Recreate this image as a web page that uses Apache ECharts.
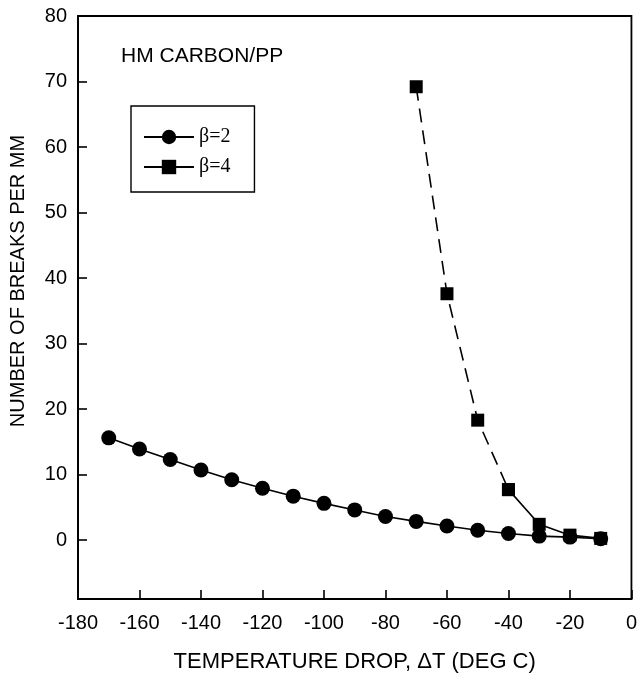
<!DOCTYPE html>
<html>
<head>
<meta charset="utf-8">
<script src="https://cdn.jsdelivr.net/npm/echarts@6/dist/echarts.min.js"></script>
<style>html,body{margin:0;padding:0;background:#fff}#c{width:640px;height:680px}</style>
</head>
<body>
<div id="c"></div>
<script>
const temps2 = [-170,-160,-150,-140,-130,-120,-110,-100,-90,-80,-70,-60,-50,-40,-30,-20,-10];
const beta2 = [15.6,13.9,12.3,10.7,9.2,7.9,6.7,5.6,4.6,3.6,2.85,2.15,1.5,1.0,0.6,0.45,0.2];
const temps4Dashed = [-70,-60,-50,-40];
const beta4Dashed = [69.2,37.6,18.3,7.7];
const temps4Solid = [-40,-30,-20,-10];
const beta4Solid = [7.7,2.4,0.75,0.25];
const yTicks = [0,10,20,30,40,50,60,70,80];
const xTicks = [-180,-160,-140,-120,-100,-80,-60,-40,-20,0];

const font = 'Liberation Sans, Arial, sans-serif';
const zip = (a,b)=>a.map((v,i)=>[v,b[i]]);
const chart = echarts.init(document.getElementById('c'));
chart.setOption({
  animation:false,
  grid:{left:78,right:7,top:16,bottom:81,show:true,borderColor:'#000',borderWidth:1.8},
  title:{text:'HM CARBON/PP',left:116,top:41,textStyle:{fontFamily:font,fontWeight:'normal',fontSize:21,color:'#000'}},
  graphic:[{type:'text',x:18,y:281,rotation:Math.PI/2,
    style:{text:'NUMBER OF BREAKS PER MM',fontFamily:font,fontSize:20,fill:'#000',align:'center',verticalAlign:'middle'}}],
  legend:{
    data:['β=2','β=4'],orient:'vertical',left:131,top:106,
    padding:[21,24,15,12],itemGap:10,itemWidth:50,itemHeight:18,
    borderColor:'#000',borderWidth:1.4,
    textStyle:{fontFamily:'Liberation Serif, Times New Roman, serif',fontSize:20,color:'#000'}
  },
  xAxis:{type:'value',min:-180,max:0,interval:20,
    name:'TEMPERATURE DROP, ΔT (DEG C)',nameLocation:'middle',nameGap:52,
    nameTextStyle:{fontFamily:font,fontSize:22,color:'#000'},
    axisLine:{onZero:false,lineStyle:{color:'#000',width:1.8}},
    axisTick:{inside:true,length:9,lineStyle:{color:'#000',width:1.6}},
    axisLabel:{margin:14,fontFamily:font,fontSize:20,color:'#000',customValues:xTicks},
    splitLine:{show:false}},
  yAxis:{type:'value',min:-9,max:80,
    axisLine:{show:true,onZero:false,lineStyle:{color:'#000',width:1.8}},
    axisTick:{show:true,inside:true,length:9,lineStyle:{color:'#000',width:1.6},customValues:yTicks},
    axisLabel:{margin:11,fontFamily:font,fontSize:20,color:'#000',customValues:yTicks},
    splitLine:{show:false}},
  series:[
    {name:'β=2',type:'line',data:zip(temps2,beta2),symbol:'circle',symbolSize:15,
      itemStyle:{color:'#000'},lineStyle:{color:'#000',width:1.6}},
    {name:'β=4',type:'line',data:zip(temps4Solid,beta4Solid),symbol:'rect',symbolSize:13,
      itemStyle:{color:'#000'},lineStyle:{color:'#000',width:1.6}},
    {name:'β=4 dashed',type:'line',data:zip(temps4Dashed,beta4Dashed),symbol:'rect',symbolSize:13,
      itemStyle:{color:'#000'},lineStyle:{color:'#000',width:1.6,type:[14,8]}}
  ]
});
</script>
</body>
</html>
